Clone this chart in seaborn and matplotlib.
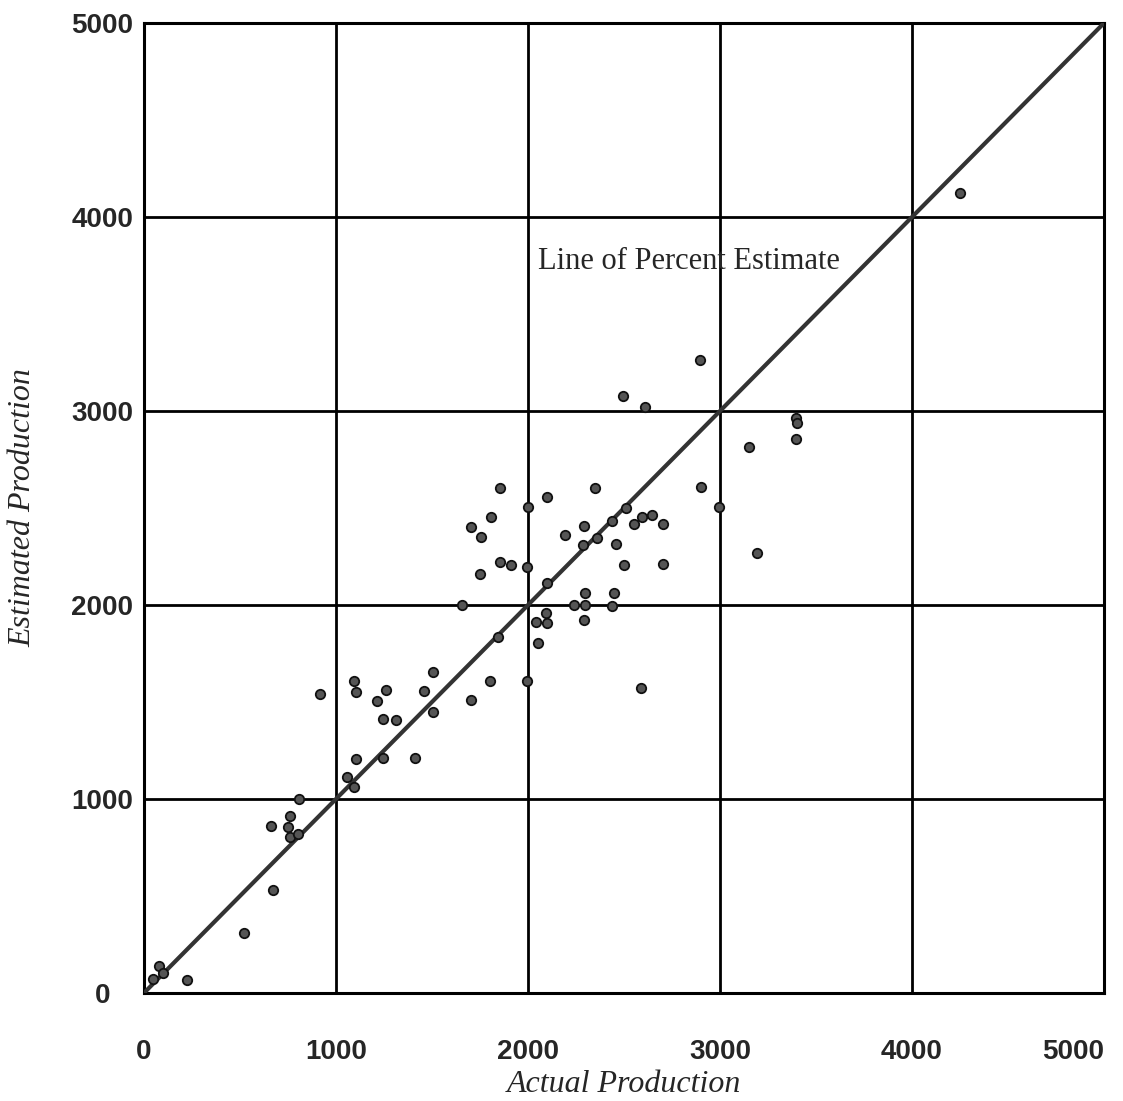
import matplotlib
matplotlib.use("Agg")
import matplotlib.pyplot as plt
import seaborn as sns
import pandas as pd

# Actual vs. estimated production for each reporting unit
actual = [45, 80, 101, 222, 519, 674, 661, 750, 760, 762, 800, 809, 917,
          1056, 1095, 1095, 1104, 1104, 1214, 1245, 1247, 1260, 1311, 1411,
          1460, 1507, 1507, 1658, 1701, 1703, 1750, 1757, 1802, 1806, 1845,
          1854, 1854, 1911, 1993, 2000, 1997, 2042, 2050, 2094, 2097, 2097,
          2099, 2194, 2240, 2288, 2290, 2293, 2295, 2295, 2351, 2358, 2438,
          2438, 2446, 2457, 2495, 2500, 2510, 2551, 2594, 2608, 2589, 2648,
          2703, 2703, 2896, 2901, 2997, 3149, 3194, 3396, 3399, 3396, 4250]
estimated = [72, 139, 101, 69, 309, 529, 859, 856, 914, 804, 820, 1000, 1543,
             1112, 1063, 1607, 1550, 1206, 1507, 1411, 1211, 1560, 1407, 1213,
             1557, 1656, 1450, 1998, 1509, 2400, 2158, 2349, 1610, 2454, 1837,
             2603, 2222, 2208, 2198, 2503, 1610, 1911, 1804, 1960, 2555, 2112,
             1906, 2362, 1998, 2311, 2407, 1923, 2063, 2002, 2603, 2347, 2435,
             1995, 2063, 2314, 3076, 2205, 2502, 2416, 2454, 3019, 1572, 2462,
             2418, 2213, 3263, 2607, 2507, 2816, 2270, 2962, 2937, 2856, 4122]

# Line where the estimate equals the actual value
diag = [0, 5000]
ticks = [0, 1000, 2000, 3000, 4000, 5000]
tick_labels = ["0", "1000", "2000", "3000", "4000", "5000"]

df = pd.DataFrame({"actual": actual, "estimated": estimated})
line_df = pd.DataFrame({"x": diag, "y": diag})

sns.set_theme(style="white")
plt.rcParams["font.family"] = ["Liberation Sans", "DejaVu Sans"]

fig = plt.figure(figsize=(11.23, 11.01), dpi=100)
ax = fig.add_axes([0.1282, 0.0981, 0.8549, 0.8810])

ax.set_xlim(0, 5000)
ax.set_ylim(0, 5000)
ax.set_xticks(ticks)
ax.set_yticks(ticks)
ax.grid(True, color="black", linewidth=2.0)
ax.set_axisbelow(True)

sns.lineplot(data=line_df, x="x", y="y", ax=ax, color="#333333",
             linewidth=3.0, zorder=3)
sns.scatterplot(data=df, x="actual", y="estimated", ax=ax, s=46,
                color="#555555", edgecolor="#111111", linewidth=1.3,
                zorder=4)

for s in ax.spines.values():
    s.set_color("black")
    s.set_linewidth(2.2)

ax.set_xticklabels(tick_labels, fontsize=20, fontweight="bold")
ax.set_yticklabels(tick_labels, fontsize=20, fontweight="bold", ha="center")
ax.get_xticklabels()[-1].set_ha("right")
ax.tick_params(axis="x", length=0, pad=33)
ax.tick_params(axis="y", length=0, pad=30)

ax.set_xlabel("Actual Production", fontsize=23, fontstyle="italic",
              family="Liberation Serif")
ax.set_ylabel("Estimated Production", fontsize=23, fontstyle="italic",
              family="Liberation Serif")
ax.xaxis.set_label_coords(0.5, -0.079)
ax.yaxis.set_label_coords(-0.111, 0.5)

ax.text(2050, 3770, "Line of Percent Estimate", fontsize=22,
        family="Liberation Serif", va="center", ha="left", zorder=5)

fig.savefig("out.png", dpi=100)
